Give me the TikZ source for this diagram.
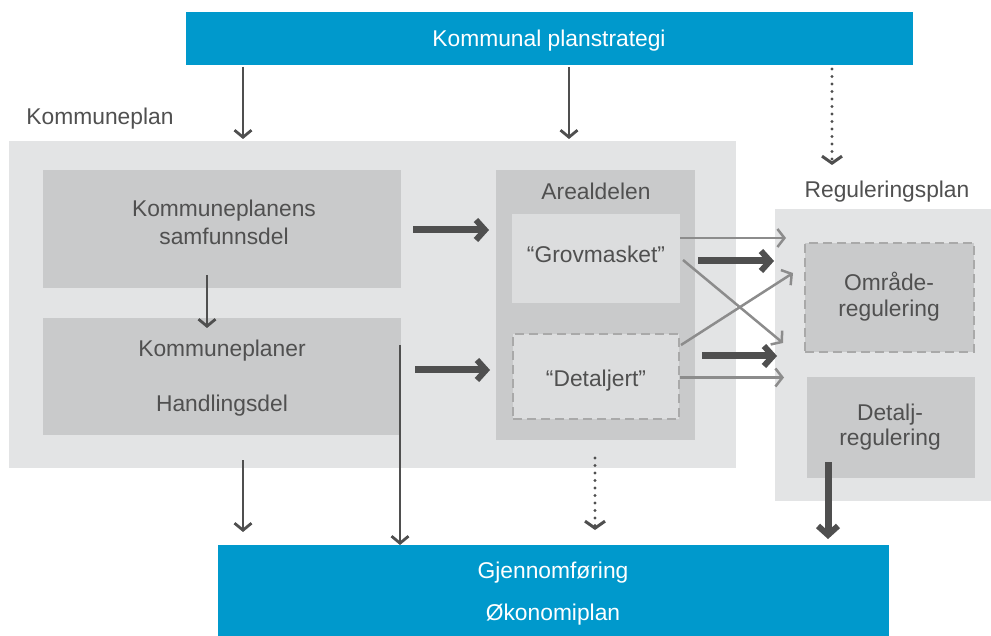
\documentclass[tikz,border=0pt]{standalone}
\usepackage{fontspec}
\setmainfont{Liberation Sans}
\usetikzlibrary{arrows.meta,calc}
\definecolor{blu}{HTML}{0099CC}
\definecolor{pl}{HTML}{E3E4E5}
\definecolor{pm}{HTML}{C9CACB}
\definecolor{pg}{HTML}{DCDDDE}
\definecolor{tx}{HTML}{505050}
\definecolor{ar}{HTML}{4F4F4F}
\definecolor{ga}{HTML}{8C8C8C}
\definecolor{dsh}{HTML}{A9A9A9}
\begin{document}
\begin{tikzpicture}[x=1pt,y=-1pt,
  font=\fontsize{22.8}{27}\selectfont,
  box/.style={anchor=north west, inner sep=0pt, outer sep=0pt, draw=none},
  txt/.style={inner sep=0pt, text=tx, align=center},
  wtxt/.style={inner sep=0pt, text=white, align=center},
  dashbox/.style={box, draw=dsh, line width=2.5pt, dash pattern=on 9pt off 5pt},
  thinarrow/.style={draw=ar, line width=2.4pt, -{Straight Barb[length=7pt,width=17pt,line width=2.8pt]}},
  dotarrow/.style={draw=ar, line width=3.2pt, line cap=round, dash pattern=on 0pt off 7.5pt, -{Straight Barb[length=7pt,width=20pt,line width=3pt]}},
  thickarrow/.style={draw=ar, line width=7pt, -{Straight Barb[length=9pt,width=20pt,line width=6pt]}},
  grayarrow/.style={draw=ga, line width=2.5pt, -{Straight Barb[length=7pt,width=18pt,line width=2.5pt]}}
]
\useasboundingbox (0,0) rectangle (991,636);
\fill[white] (0,0) rectangle (991,636);

% panels
\node[box, fill=blu, minimum width=727pt, minimum height=53pt] (strat) at (186,12) {};
\node[box, fill=pl, minimum width=727pt, minimum height=327pt] (kp) at (9,141) {};
\node[box, fill=pm, minimum width=358pt, minimum height=118pt] (samf) at (43,170) {};
\node[box, fill=pm, minimum width=358pt, minimum height=117pt] (hand) at (43,318) {};
\node[box, fill=pm, minimum width=199pt, minimum height=270pt] (areal) at (496,170) {};
\node[box, fill=pg, minimum width=168pt, minimum height=89pt] (grov) at (512,214) {};
\node[dashbox, fill=pg, minimum width=166pt, minimum height=85pt] (detj) at (513,334) {};
\node[box, fill=pl, minimum width=216pt, minimum height=292pt] (reg) at (775,209) {};
\node[dashbox, fill=pm, minimum width=169pt, minimum height=109pt] (omr) at (805,243) {};
\node[box, fill=pm, minimum width=168pt, minimum height=101pt] (detr) at (807,377) {};
\node[box, fill=blu, minimum width=671pt, minimum height=91pt] (gjen) at (218,545) {};

% texts
\node[wtxt] (tstrat) at (549,41) {Kommunal planstrategi};
\node[txt] (tkp) at (100,119) {Kommuneplan};
\node[txt, font=\fontsize{22.8}{28}\selectfont] (tsamf) at (224,222) {Kommuneplanens\\samfunnsdel};
\node[txt] (thand) at (222,378.5) {Kommuneplaner\\[28pt]Handlingsdel};
\node[txt] (tareal) at (596,191) {Arealdelen};
\node[txt] (tgrov) at (596,254) {“Grovmasket”};
\node[txt] (tdetj) at (596,381) {“Detaljert”};
\node[txt] (treg) at (887,192) {Reguleringsplan};
\node[txt, font=\fontsize{22.8}{26}\selectfont] (tomr) at (889,296.5) {Område-\\regulering};
\node[txt, font=\fontsize{22.8}{25}\selectfont] (tdetr) at (890,427.5) {Detalj-\\regulering};
\node[wtxt] (tgjen) at (553,594) {Gjennomføring\\[15pt]Økonomiplan};

% arrows from strategy
\draw[thinarrow] ([xshift=57pt,yshift=-2pt]strat.south west) -- ([xshift=234pt,yshift=2pt]kp.north west);
\draw[thinarrow] ([xshift=383pt,yshift=-2pt]strat.south west) -- ([xshift=560pt,yshift=2pt]kp.north west);
\draw[dotarrow] ([xshift=646pt,yshift=-4pt]strat.south west) -- ([xshift=57pt,yshift=44pt]reg.north west);

% inside kommuneplan
\draw[thinarrow] ([xshift=164pt,yshift=13pt]samf.south west) -- ([xshift=164pt,yshift=-10pt]hand.north west);
\draw[thickarrow] ([xshift=12pt,yshift=-1pt]samf.east) coordinate (s1) -- ([xshift=-7pt]s1 -| areal.west);
\draw[thickarrow] ([xshift=14pt,yshift=6.5pt]hand.east) coordinate (h1) -- ([xshift=-6pt]h1 -| areal.west);

% to gjennomforing
\draw[thinarrow] ([xshift=-1pt,yshift=-27pt]hand.north east) coordinate (l1) -- (l1 |- gjen.north);
\draw[thinarrow, shorten >=13pt] ([xshift=234pt,yshift=8pt]kp.south west) coordinate (l2) -- (l2 |- gjen.north);
\draw[dotarrow, shorten >=15pt] ([xshift=586pt,yshift=10pt]kp.south west) coordinate (l3) -- (l3 |- gjen.north);
\draw[thickarrow, shorten >=6pt] ([xshift=21pt,yshift=16pt]detr.south west) coordinate (l4) -- (l4 |- gjen.north);

% arealdel to regulering
\draw[grayarrow] ([yshift=-24pt]grov.north east) coordinate (g1) -- ([xshift=-19pt]g1 -| omr.west);
\draw[grayarrow] ([xshift=3pt,yshift=-46pt]grov.north east) -- ([xshift=-22pt,yshift=9pt]omr.south west);
\draw[grayarrow] ([xshift=2pt,yshift=-11pt]detj.north east) -- ([xshift=-12pt,yshift=-30pt]omr.north west);
\draw[grayarrow] ([xshift=1pt,yshift=-1pt]detj.east) coordinate (d1) -- ([xshift=-21pt]d1 -| omr.west);
\draw[thickarrow] ([xshift=18pt,yshift=-47pt]grov.north east) coordinate (g2) -- ([xshift=-31pt]g2 -| omr.west);
\draw[thickarrow] ([xshift=23pt,yshift=-22pt]detj.north east) coordinate (d2) -- ([xshift=-28pt]d2 -| omr.west);
\end{tikzpicture}
\end{document}
